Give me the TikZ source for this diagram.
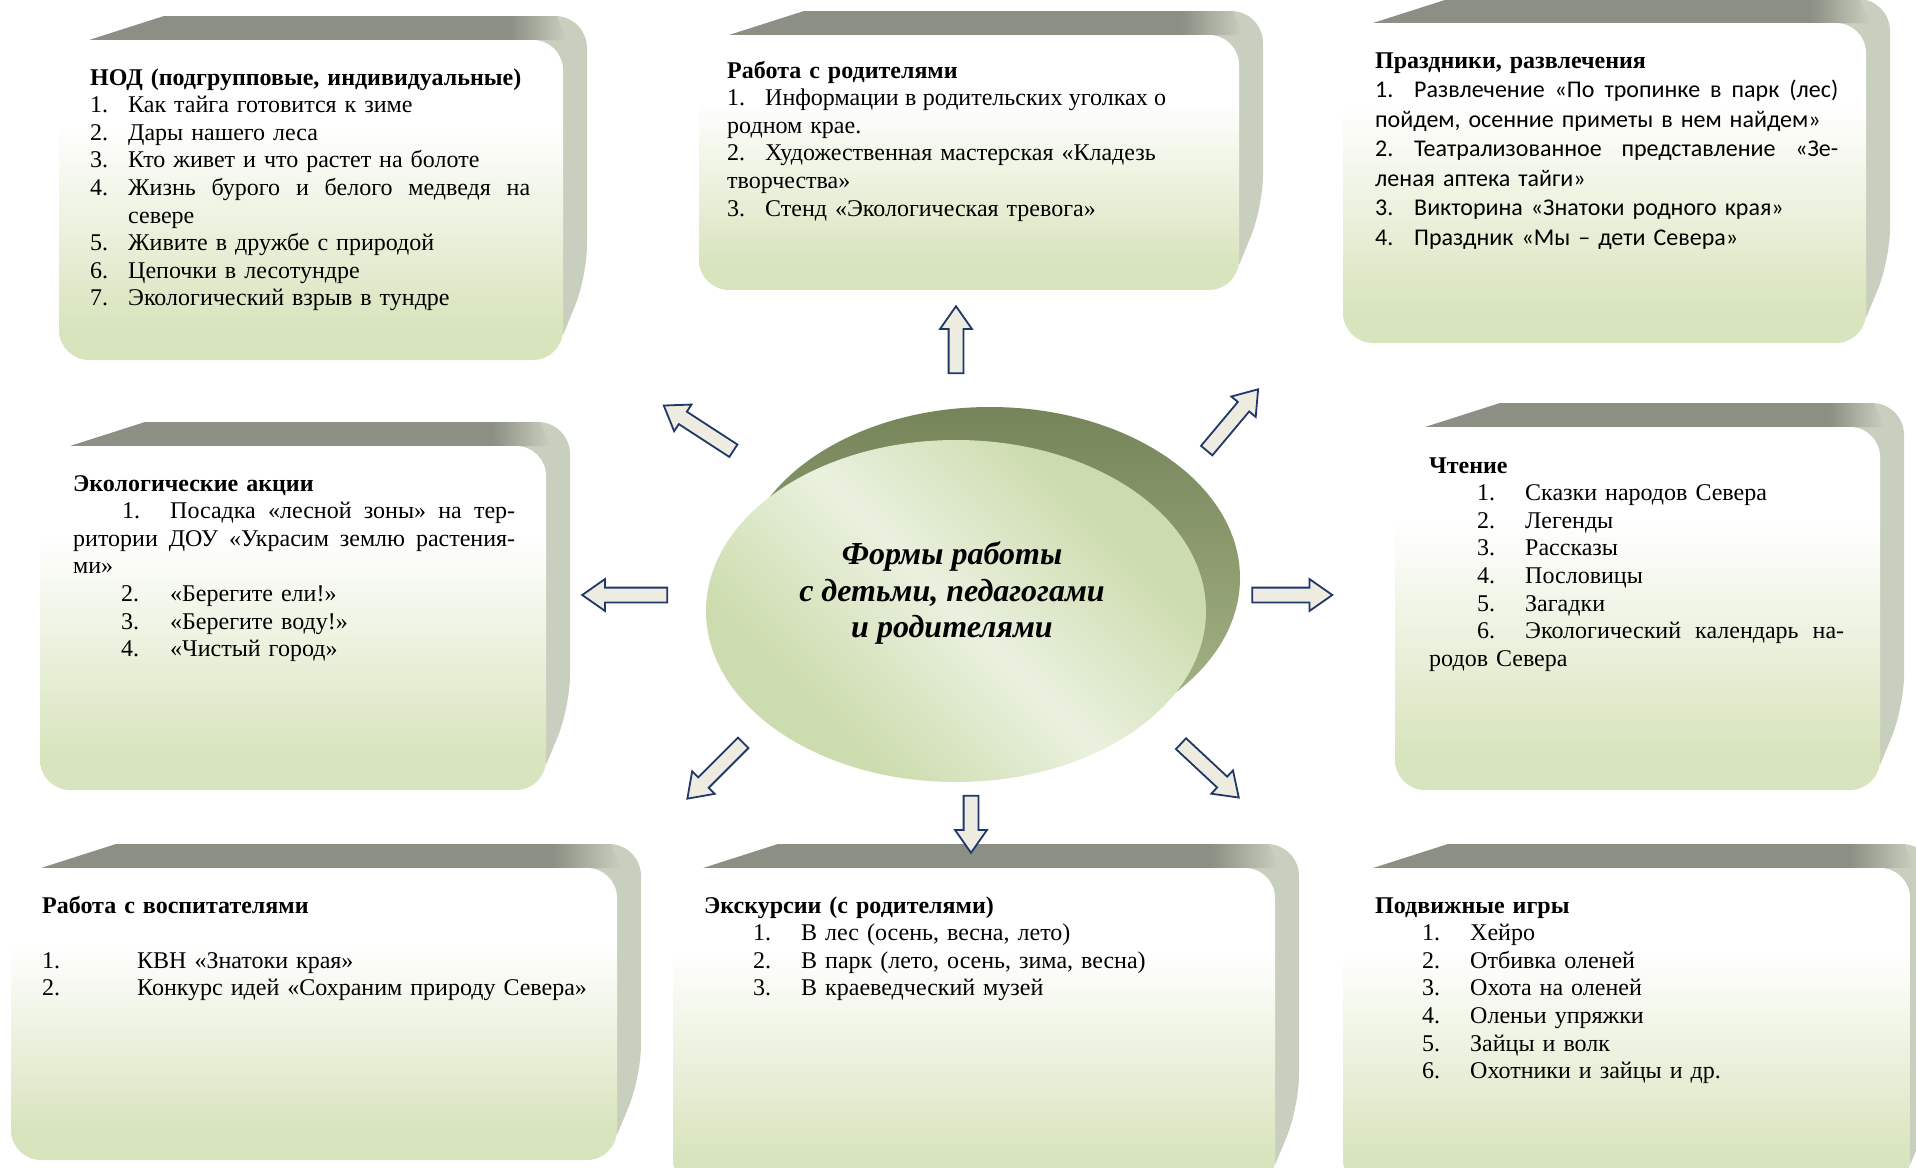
\documentclass[tikz,border=0pt]{standalone}
\usepackage{fontspec}
\setmainfont{Liberation Serif}
\newfontfamily\calibri{Carlito}
\usetikzlibrary{shapes.arrows}

\definecolor{faceGreen}{HTML}{D8E4BD}
\definecolor{topGrey}{HTML}{8B8F84}
\definecolor{sideLight}{HTML}{C9CFBF}
\definecolor{ovalLight}{HTML}{EAF1DF}
\definecolor{ovalGreen}{HTML}{CDDCAE}
\definecolor{rimDark}{HTML}{76845A}
\definecolor{rimLight}{HTML}{AAB98A}
\definecolor{arrowLine}{HTML}{1F3868}
\definecolor{arrowFill}{HTML}{EEECE1}

\pgfdeclareverticalshading{facefade}{100bp}{color(0bp)=(faceGreen); color(30bp)=(faceGreen); color(62bp)=(white); color(100bp)=(white)}
\pgfdeclarehorizontalshading{topfade}{100bp}{color(0bp)=(topGrey); color(69bp)=(topGrey); color(75bp)=(sideLight); color(100bp)=(sideLight)}
\pgfdeclarehorizontalshading{ovalshade}{100bp}{color(0bp)=(ovalGreen); color(30bp)=(ovalGreen); color(50bp)=(ovalLight); color(70bp)=(ovalGreen); color(100bp)=(ovalGreen)}

\newcommand\itemno[2][38pt]{\makebox[#1][l]{#2}}
\newcommand\spread[2]{\makebox[#1][s]{\spaceskip=0pt\xspaceskip=0pt\relax#2}}

% x1, y1, x2, y2 of the front face
\newcommand\plate[4]{%
    \fill[sideLight, rounded corners=32] (#3-40,#2) -- (#3-40,#2-24) -- (#3+24,#2-24) -- (#3+24,#4-83) [sharp corners] -- (#3,#4-25) -- cycle;
    \shade[shading=topfade] (#1+30,#2) -- (#1+105,#2-24) -- (#3-6,#2-24) -- (#3+4,#2) -- cycle;
    \shade[shading=facefade, rounded corners=30] (#1,#2) rectangle (#3,#4);
}

\begin{document}
\begin{tikzpicture}[x=1pt,y=-1pt,
    boxtext/.style={anchor=base west, inner sep=0pt, text width=#1, align=left, font=\fontsize{24}{27.6}\selectfont},
    blockarrow/.style={single arrow, draw=arrowLine, fill=arrowFill, line width=1.8pt, inner xsep=0pt, inner ysep=6.5pt,
        minimum width=30pt, single arrow head extend=8.5pt, single arrow tip angle=70, minimum height=#1}]
    \useasboundingbox (0,0) rectangle (1916,1167);
    \clip (0,0) rectangle (1916,1167);

    \plate{59}{40}{563}{360}
    \plate{699}{35}{1239}{290}
    \plate{1343}{23}{1866}{343}
    \plate{40}{446}{546}{790}
    \plate{1395}{427}{1880}{790}
    \plate{11}{868}{617}{1160}
    \plate{673}{868}{1275}{1190}
    \plate{1343}{868}{1910}{1190}

    \shade[top color=rimDark, bottom color=rimLight] (990,578) ellipse [x radius=250, y radius=171];
    \shade[shading=ovalshade, shading angle=45] (956,611) ellipse [x radius=250, y radius=171];
    \node[align=center, font=\fontsize{32}{36.5}\selectfont\bfseries\itshape] (forms) at (952,593)
        {Формы работы\\ с детьми, педагогами\\ и родителями};

    \node[blockarrow=67, rotate=90] (arrUp) at (956,345) {};
    \node[blockarrow=83, rotate=147] (arrUpLeft) at (703,431) {};
    \node[blockarrow=80, rotate=50] (arrUpRight) at (1229,424) {};
    \node[blockarrow=85, rotate=180] (arrLeft) at (630,595) {};
    \node[blockarrow=80] (arrRight) at (1287,595) {};
    \node[blockarrow=79, rotate=225] (arrDownLeft) at (719,767) {};
    \node[blockarrow=57, rotate=270] (arrDown) at (971,819) {};
    \node[blockarrow=79, rotate=-43] (arrDownRight) at (1206,767) {};

    \node[boxtext=440pt] (nod) at (90,85) {{\bfseries НОД (подгрупповые, индивидуальные)}\\
        \itemno{1.}Как тайга готовится к зиме\\
        \itemno{2.}Дары нашего леса\\
        \itemno{3.}Кто живет и что растет на болоте\\
        \itemno{4.}\spread{402pt}{Жизнь бурого и белого медведя на}\\
        \hspace*{38pt}севере\\
        \itemno{5.}Живите в дружбе с природой\\
        \itemno{6.}Цепочки в лесотундре\\
        \itemno{7.}Экологический взрыв в тундре};

    \node[boxtext=445pt] (parents) at (727,78) {{\bfseries Работа с родителями}\\
        \itemno{1.}\spread{401pt}{Информации в родительских уголках о}\\
        родном крае.\\
        \itemno{2.}Художественная мастерская «Кладезь\\
        творчества»\\
        \itemno{3.}Стенд «Экологическая тревога»};

    \node[boxtext=465pt, font=\fontsize{24}{29.5}\selectfont] (holidays) at (1375,68) {{\bfseries Праздники, развлечения}\\
        \calibri\itemno[39pt]{1.}\spread{424pt}{Развлечение «По тропинке в парк (лес)}\\
        пойдем, осенние приметы в нем найдем»\\
        \itemno[39pt]{2.}\spread{424pt}{Театрализованное представление «Зе-}\\
        леная аптека тайги»\\
        \itemno[39pt]{3.}Викторина «Знатоки родного края»\\
        \itemno[39pt]{4.}Праздник «Мы – дети Севера»};

    \node[boxtext=445pt] (actions) at (73,491) {{\bfseries Экологические акции}\\
        \hspace*{49pt}\itemno[48pt]{1.}\spread{345pt}{Посадка «лесной зоны» на тер-}\\
        \spread{442pt}{ритории ДОУ «Украсим землю растения-}\\
        ми»\\
        \hspace*{48pt}\itemno[49pt]{2.}«Берегите ели!»\\
        \hspace*{48pt}\itemno[49pt]{3.}«Берегите воду!»\\
        \hspace*{48pt}\itemno[49pt]{4.}«Чистый город»};

    \node[boxtext=420pt] (reading) at (1429,473) {{\bfseries Чтение}\\
        \hspace*{48pt}\itemno[48pt]{1.}Сказки народов Севера\\
        \hspace*{48pt}\itemno[48pt]{2.}Легенды\\
        \hspace*{48pt}\itemno[48pt]{3.}Рассказы\\
        \hspace*{48pt}\itemno[48pt]{4.}Пословицы\\
        \hspace*{48pt}\itemno[48pt]{5.}Загадки\\
        \hspace*{48pt}\itemno[48pt]{6.}\spread{319pt}{Экологический календарь на-}\\
        родов Севера};

    \node[boxtext=580pt] (educators) at (42,913) {{\bfseries Работа с воспитателями}\\[27.6pt]
        \itemno[95pt]{1.}КВН «Знатоки края»\\
        \itemno[95pt]{2.}Конкурс идей «Сохраним природу Севера»};

    \node[boxtext=560pt] (excursions) at (704,913) {{\bfseries Экскурсии (с родителями)}\\
        \hspace*{49pt}\itemno[48pt]{1.}В лес (осень, весна, лето)\\
        \hspace*{49pt}\itemno[48pt]{2.}В парк (лето, осень, зима, весна)\\
        \hspace*{49pt}\itemno[48pt]{3.}В краеведческий музей};

    \node[boxtext=500pt] (games) at (1375,913) {{\bfseries Подвижные игры}\\
        \hspace*{47pt}\itemno[48pt]{1.}Хейро\\
        \hspace*{47pt}\itemno[48pt]{2.}Отбивка оленей\\
        \hspace*{47pt}\itemno[48pt]{3.}Охота на оленей\\
        \hspace*{47pt}\itemno[48pt]{4.}Оленьи упряжки\\
        \hspace*{47pt}\itemno[48pt]{5.}Зайцы и волк\\
        \hspace*{47pt}\itemno[48pt]{6.}Охотники и зайцы и др.};
\end{tikzpicture}
\end{document}
